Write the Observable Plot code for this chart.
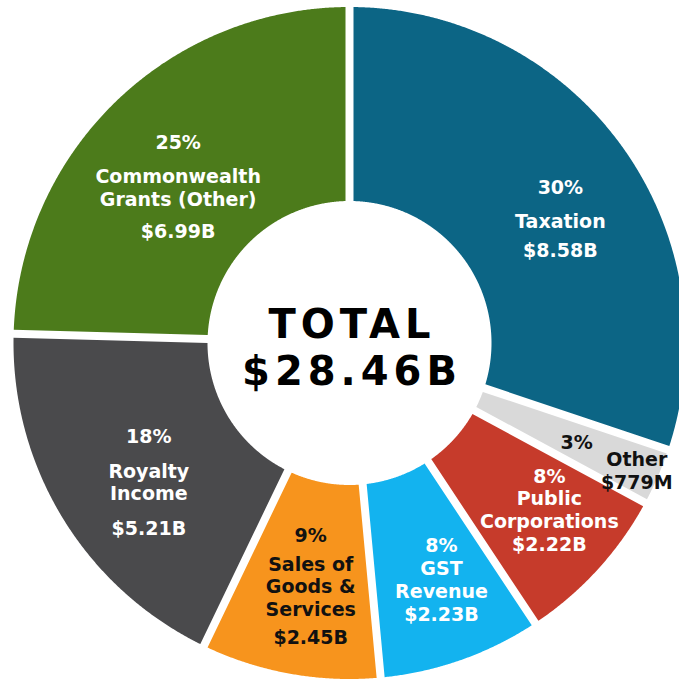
<!DOCTYPE html>
<html><head><meta charset="utf-8">
<script src="https://cdn.jsdelivr.net/npm/d3@7"></script>
<script src="https://cdn.jsdelivr.net/npm/@observablehq/plot@0.6"></script>
<style>html,body{margin:0;padding:0;background:#fff}#chart{width:679px;height:681px}</style>
</head><body><div id="chart"></div>
<script>
// ---- data (clockwise from 12 o'clock) ----
const categories = ["Taxation", "Other", "Public Corporations", "GST Revenue", "Sales of Goods & Services", "Royalty Income", "Commonwealth Grants (Other)"];
const labelNames = ["Taxation", "Other", "Public\nCorporations", "GST\nRevenue", "Sales of\nGoods &\nServices", "Royalty\nIncome", "Commonwealth\nGrants (Other)"];
const valuesB = [8.58, 0.779, 2.22, 2.23, 2.45, 5.21, 6.99];
const totalTitle = "TOTAL";

// ---- styles / layout ----
const colors = ["#0c6585", "#d9d9d9", "#c63b2b", "#13b3ef", "#f7941d", "#4a4a4c", "#4c7b1b"];
const darkText = new Set(["Other", "Sales of Goods & Services"]);
const labelLayout = {
  "Taxation": {dx: 12, dy: 7.5, gaps: [34, 22.5, 29]},
  "Other": {dx: 2.5, dy: -9.5, dx2: 1.5, dy2: -5, gaps: [0, 22.5, 22.5]},
  "Public Corporations": {dx: 19, dy: -9.5, gaps: [22.5, 22.5, 23]},
  "GST Revenue": {dx: 10.5, dy: -5.5, gaps: [23, 23, 22.5]},
  "Sales of Goods & Services": {dx: 4.5, dy: -9.5, gaps: [29, 22.5, 28]},
  "Royalty Income": {dx: 8.5, dy: 0, gaps: [35, 22.5, 34.5]},
  "Commonwealth Grants (Other)": {dx: -0.5, dy: 8, gaps: [34.5, 22.5, 32.5]}
};
const R_OUT = 336, R_IN = 142, HALF_GAP = 4, LABEL_R = 245, LABEL_DY = 12, FONT = 19;

const total = d3.sum(valuesB);
const pie = d3.pie().sort(null).value(d => d.value)(
  categories.map((c, i) => ({category: c, value: valuesB[i], name: labelNames[i]}))
);

// slice outlines (annular sectors with constant-width gaps)
const slicePts = [];
for (const p of pie) {
  const cat = p.data.category;
  const po = Math.asin(HALF_GAP / R_OUT), pi = Math.asin(HALF_GAP / R_IN);
  const oa0 = p.startAngle + po, oa1 = p.endAngle - po;
  const ia0 = p.startAngle + pi, ia1 = p.endAngle - pi;
  const n = Math.max(2, Math.ceil((oa1 - oa0) / 0.004));
  for (let k = 0; k <= n; k++) {
    const a = oa0 + (oa1 - oa0) * k / n;
    slicePts.push({category: cat, x: R_OUT * Math.sin(a), y: -R_OUT * Math.cos(a)});
  }
  const m = Math.max(2, Math.ceil((ia1 - ia0) / 0.004));
  for (let k = m; k >= 0; k--) {
    const a = ia0 + (ia1 - ia0) * k / m;
    slicePts.push({category: cat, x: R_IN * Math.sin(a), y: -R_IN * Math.cos(a)});
  }
}

// labels
const fmtPct = d3.format(".0%");
const fmtVal = v => v >= 1 ? "$" + d3.format(".2f")(v) + "B" : "$" + Math.round(v * 1000) + "M";
const textRows = [];
for (const p of pie) {
  const cat = p.data.category;
  const L = labelLayout[cat];
  const mid = (p.startAngle + p.endAngle) / 2;
  const dark = darkText.has(cat);
  const pct = fmtPct(p.value / total);
  const names = p.data.name.split("\n");
  const val = fmtVal(p.value);
  const ax = LABEL_R * Math.sin(mid) + L.dx, ay = -LABEL_R * Math.cos(mid) + LABEL_DY + L.dy;
  if (p.value / total < 0.05) {
    // small slice: percentage inside, name and value pushed outward
    textRows.push({text: pct, x: ax, y: ay, dark});
    const bx = 305 * Math.sin(mid) + 6 + L.dx2, by = -305 * Math.cos(mid) + LABEL_DY + L.dy2;
    const lines = [...names, val];
    lines.forEach((t, j) => textRows.push({text: t, x: bx, y: by + (j - (lines.length - 1) / 2) * L.gaps[1], dark}));
    continue;
  }
  const [gapPct, gapLine, gapVal] = L.gaps;
  const lines = [{t: pct, o: 0}];
  let o = gapPct;
  names.forEach((t, j) => { lines.push({t, o}); if (j < names.length - 1) o += gapLine; });
  o += gapVal;
  lines.push({t: val, o});
  const c = o / 2;
  for (const l of lines) textRows.push({text: l.t, x: ax, y: ay + l.o - c, dark});
}

const chart = Plot.plot({
  width: 679,
  height: 681,
  margin: 0,
  x: {domain: [-349, 330], range: [0, 679], axis: null},
  y: {domain: [-342.5, 338.5], range: [0, 681], axis: null},
  color: {domain: categories, range: colors},
  style: {fontFamily: "'DejaVu Sans', sans-serif", background: "#fff"},
  marks: [
    Plot.line(slicePts, {x: "x", y: "y", z: "category", fill: "category", stroke: "none", curve: "linear"}),
    Plot.text(textRows, {filter: d => !d.dark, x: "x", y: "y", text: "text", fill: "#fff", fontSize: FONT, fontWeight: "bold"}),
    Plot.text(textRows, {filter: d => d.dark, x: "x", y: "y", text: "text", fill: "#111", fontSize: FONT, fontWeight: "bold"}),
    Plot.text([{x: 0, y: 0, text: totalTitle + "\n" + "$" + d3.format(".2f")(total) + "B"}],
      {x: "x", y: "y", text: "text", fill: "#000", fontSize: 40, fontWeight: "bold", lineHeight: 1.175, dx: 2.5, dy: 3.5})
  ]
});
// wider tracking for the centre total, like the heavy display face of the original
const textGroups = chart.querySelectorAll('g[aria-label="text"]');
if (textGroups.length) textGroups[textGroups.length - 1].style.letterSpacing = "5px";
document.getElementById("chart").appendChild(chart);
</script>
</body></html>
